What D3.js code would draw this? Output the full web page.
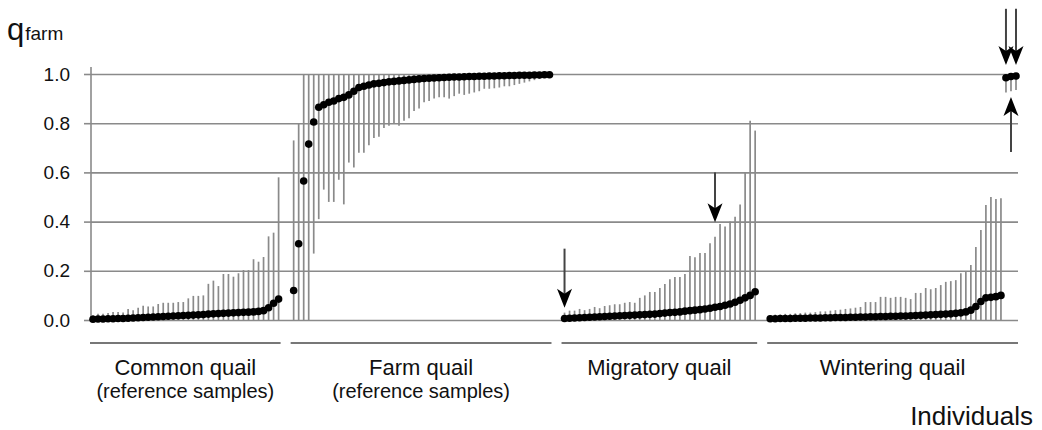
<!DOCTYPE html>
<html><head><meta charset="utf-8">
<script src="https://cdn.jsdelivr.net/npm/d3@7"></script>
<style>
body{margin:0;background:#fff}
svg{display:block}
text{font-family:"Liberation Sans",Arial,Helvetica,sans-serif;fill:#111}
</style>
</head><body>
<svg id="chart" width="1042" height="430"></svg>
<script>
// ---------- DATA ----------
const groupNames = ["Common quail", "Farm quail", "Migratory quail", "Wintering quail"];
const groupSubtitles = ["(reference samples)", "(reference samples)", "", ""];
const yTicks = [0, 0.2, 0.4, 0.6, 0.8, 1.0];

// Common quail (reference samples)
const commonQ = [0.003,0.004,0.004,0.005,0.005,0.006,0.006,0.007,0.008,0.009,
  0.010,0.011,0.012,0.013,0.014,0.015,0.016,0.017,0.018,0.019,
  0.020,0.021,0.022,0.024,0.025,0.026,0.027,0.028,0.029,0.030,
  0.031,0.032,0.033,0.035,0.038,0.050,0.068,0.085];
const commonLo = [0,0,0,0,0,0,0,0,0,0, 0,0,0,0,0,0,0,0,0,0, 0,0,0,0,0,0,0,0,0,0, 0,0,0,0,0,0,0,0];
const commonHi = [0.02,0.025,0.025,0.028,0.033,0.033,0.03,0.045,0.04,0.05,
  0.058,0.055,0.055,0.065,0.07,0.07,0.07,0.073,0.073,0.088,
  0.098,0.098,0.10,0.147,0.16,0.138,0.187,0.187,0.176,0.19,
  0.203,0.203,0.247,0.237,0.256,0.34,0.355,0.58];

// Farm quail (reference samples)
const farmQ = [0.12,0.31,0.565,0.715,0.805,0.865,0.875,0.885,0.89,0.90,
  0.905,0.915,0.93,0.945,0.95,0.955,0.96,0.962,0.965,0.968,
  0.97,0.972,0.974,0.976,0.978,0.98,0.982,0.983,0.984,0.985,
  0.986,0.987,0.988,0.988,0.989,0.99,0.99,0.991,0.991,0.992,
  0.992,0.993,0.993,0.994,0.994,0.995,0.995,0.995,0.996,0.996,
  0.997,0.997];
const farmLo = [0,0,0,0,0.27,0.41,0.53,0.48,0.48,0.57,
  0.47,0.64,0.62,0.68,0.68,0.71,0.74,0.745,0.78,0.79,
  0.80,0.79,0.81,0.82,0.85,0.86,0.885,0.89,0.90,0.905,
  0.905,0.90,0.91,0.92,0.915,0.92,0.925,0.93,0.94,0.94,
  0.942,0.945,0.95,0.95,0.955,0.96,0.965,0.97,0.975,0.98,
  0.985,0.99];
const farmHi = [0.73,0.80,1,1,1,1,1,1,1,1, 1,1,1,1,1,1,1,1,1,1,
  1,1,1,1,1,1,1,1,1,1, 1,1,1,1,1,1,1,1,1,1, 1,1,1,1,1,1,1,1,1,1, 1,1];

// Migratory quail
const migQ = [0.006,0.007,0.008,0.009,0.010,0.011,0.012,0.013,0.014,0.015,
  0.016,0.017,0.018,0.019,0.020,0.021,0.022,0.023,0.024,0.026,
  0.028,0.030,0.031,0.033,0.036,0.038,0.040,0.042,0.045,0.048,
  0.052,0.055,0.060,0.065,0.072,0.080,0.090,0.100,0.115];
const migLo = [0,0,0,0,0,0,0,0,0,0, 0,0,0,0,0,0,0,0,0,0, 0,0,0,0,0,0,0,0,0,0, 0,0,0,0,0,0,0,0,0];
const migHi = [0.03,0.038,0.038,0.045,0.04,0.045,0.053,0.048,0.057,0.06,
  0.064,0.064,0.07,0.073,0.07,0.09,0.10,0.114,0.114,0.13,
  0.146,0.166,0.175,0.175,0.187,0.26,0.255,0.272,0.272,0.312,
  0.338,0.39,0.38,0.40,0.42,0.47,0.60,0.81,0.77];

// Wintering quail (47 low + 3 high individuals)
const wintQ = [0.005,0.005,0.006,0.006,0.006,0.007,0.007,0.007,0.008,0.008,
  0.008,0.009,0.009,0.010,0.010,0.010,0.011,0.011,0.012,0.012,
  0.013,0.013,0.014,0.014,0.015,0.015,0.016,0.016,0.017,0.018,
  0.019,0.020,0.021,0.022,0.023,0.024,0.025,0.027,0.029,0.033,
  0.040,0.055,0.075,0.090,0.092,0.095,0.100,
  0.985,0.99,0.992];
const wintLo = [0,0,0,0,0,0,0,0,0,0, 0,0,0,0,0,0,0,0,0,0, 0,0,0,0,0,0,0,0,0,0,
  0,0,0,0,0,0,0,0,0,0, 0,0,0,0,0,0,0,
  0.925,0.93,0.935];
const wintHi = [0.02,0.022,0.022,0.025,0.025,0.027,0.028,0.03,0.03,0.032,
  0.035,0.035,0.038,0.04,0.042,0.045,0.047,0.05,0.053,0.073,
  0.073,0.073,0.094,0.094,0.09,0.094,0.094,0.09,0.085,0.11,
  0.11,0.13,0.125,0.13,0.142,0.155,0.158,0.162,0.19,0.195,
  0.224,0.297,0.366,0.467,0.50,0.492,0.495,
  1,1,1];

// Arrows: group index, individual index within group, shaft start value, tip value
const arrowGroup = [2, 2, 3, 3, 3];
const arrowIndex = [0, 30, 47, 49, 48];
const arrowFrom  = [0.29, 0.60, 1.265, 1.265, 0.683];
const arrowTo    = [0.05, 0.397, 1.037, 1.037, 0.906];

// ---------- BUILD ----------
const series = [
  {q: commonQ, lo: commonLo, hi: commonHi},
  {q: farmQ, lo: farmLo, hi: farmHi},
  {q: migQ, lo: migLo, hi: migHi},
  {q: wintQ, lo: wintLo, hi: wintHi}
];
const GAP = 2; // empty slots between groups
let pos = 0;
const starts = [];
const points = [];
series.forEach((s, g) => {
  starts.push(pos);
  s.q.forEach((v, i) => points.push({g, i, slot: pos + i, q: v, lo: s.lo[i], hi: s.hi[i]}));
  pos += s.q.length + GAP;
});
const lastSlot = pos - GAP - 1;

const svg = d3.select("#chart");
const x = d3.scaleLinear().domain([0, lastSlot]).range([93, 1016]);
const y = d3.scaleLinear().domain([0, 1]).range([320, 74]);
const axisX = 91, gridRight = 1018;

// grid lines
const grid = svg.append("g").attr("transform", `translate(${axisX},0)`)
  .call(d3.axisLeft(y).tickValues(yTicks).tickSize(-(gridRight - axisX)).tickFormat(""));
grid.select(".domain").remove();
grid.selectAll("line").attr("stroke", "#8a8a8a").attr("stroke-width", 1.6);

// axis with stubs and labels
const ax = svg.append("g").attr("transform", `translate(${axisX},0)`)
  .call(d3.axisLeft(y).tickValues(yTicks).tickSize(7).tickPadding(14).tickFormat(d3.format(".1f")));
ax.select(".domain").remove();
ax.selectAll("line").attr("stroke", "#8a8a8a").attr("stroke-width", 1.6);
ax.selectAll("text").attr("font-size", 19).attr("fill", "#222")
  .attr("font-family", '"Liberation Sans",Arial,sans-serif');
svg.append("line").attr("x1", axisX).attr("x2", axisX).attr("y1", y(1) - 7).attr("y2", y(0) + 2)
  .attr("stroke", "#8a8a8a").attr("stroke-width", 1.6);

// error bars
svg.append("g").selectAll("line").data(points).join("line")
  .attr("x1", d => x(d.slot)).attr("x2", d => x(d.slot))
  .attr("y1", d => y(d.lo)).attr("y2", d => y(d.hi))
  .attr("stroke", "#8a8a8a").attr("stroke-width", 1.7);

// points
svg.append("g").selectAll("circle").data(points).join("circle")
  .attr("cx", d => x(d.slot)).attr("cy", d => y(d.q)).attr("r", 3.8)
  .attr("fill", "#000");

// arrows
const arrows = arrowGroup.map((g, k) => ({
  xv: x(starts[g] + arrowIndex[k]), y0: y(arrowFrom[k]), y1: y(arrowTo[k])
}));
const ag = svg.append("g");
arrows.forEach(a => {
  const dir = a.y1 > a.y0 ? 1 : -1;
  ag.append("line").attr("x1", a.xv).attr("x2", a.xv)
    .attr("y1", a.y0).attr("y2", a.y1 - dir * 12)
    .attr("stroke", "#444").attr("stroke-width", 2);
  ag.append("path")
    .attr("d", "M0,0 L-7.5,-19 L0,-14 L7.5,-19 Z")
    .attr("transform", `translate(${a.xv},${a.y1}) scale(1,${dir})`)
    .attr("fill", "#000");
});

// group underlines and labels
const lab = svg.append("g");
series.forEach((s, g) => {
  const x0 = x(starts[g]) - 3, x1 = x(starts[g] + s.q.length - 1) + 2;
  lab.append("line").attr("x1", x0).attr("x2", x1).attr("y1", 343).attr("y2", 343)
    .attr("stroke", "#777").attr("stroke-width", 2);
  const cx = (x0 + x1) / 2;
  lab.append("text").attr("x", cx).attr("y", 375).attr("text-anchor", "middle")
    .attr("font-size", 22).text(groupNames[g]);
  if (groupSubtitles[g]) {
    lab.append("text").attr("x", cx).attr("y", 398).attr("text-anchor", "middle")
      .attr("font-size", 20).text(groupSubtitles[g]);
  }
});

// axis titles
const yt = svg.append("text").attr("x", 7).attr("y", 40);
yt.append("tspan").attr("font-size", 31).text("q");
yt.append("tspan").attr("font-size", 19).attr("dx", 1).text("farm");
svg.append("text").attr("x", 1033).attr("y", 425).attr("text-anchor", "end")
  .attr("font-size", 26).text("Individuals");
</script>
</body></html>
